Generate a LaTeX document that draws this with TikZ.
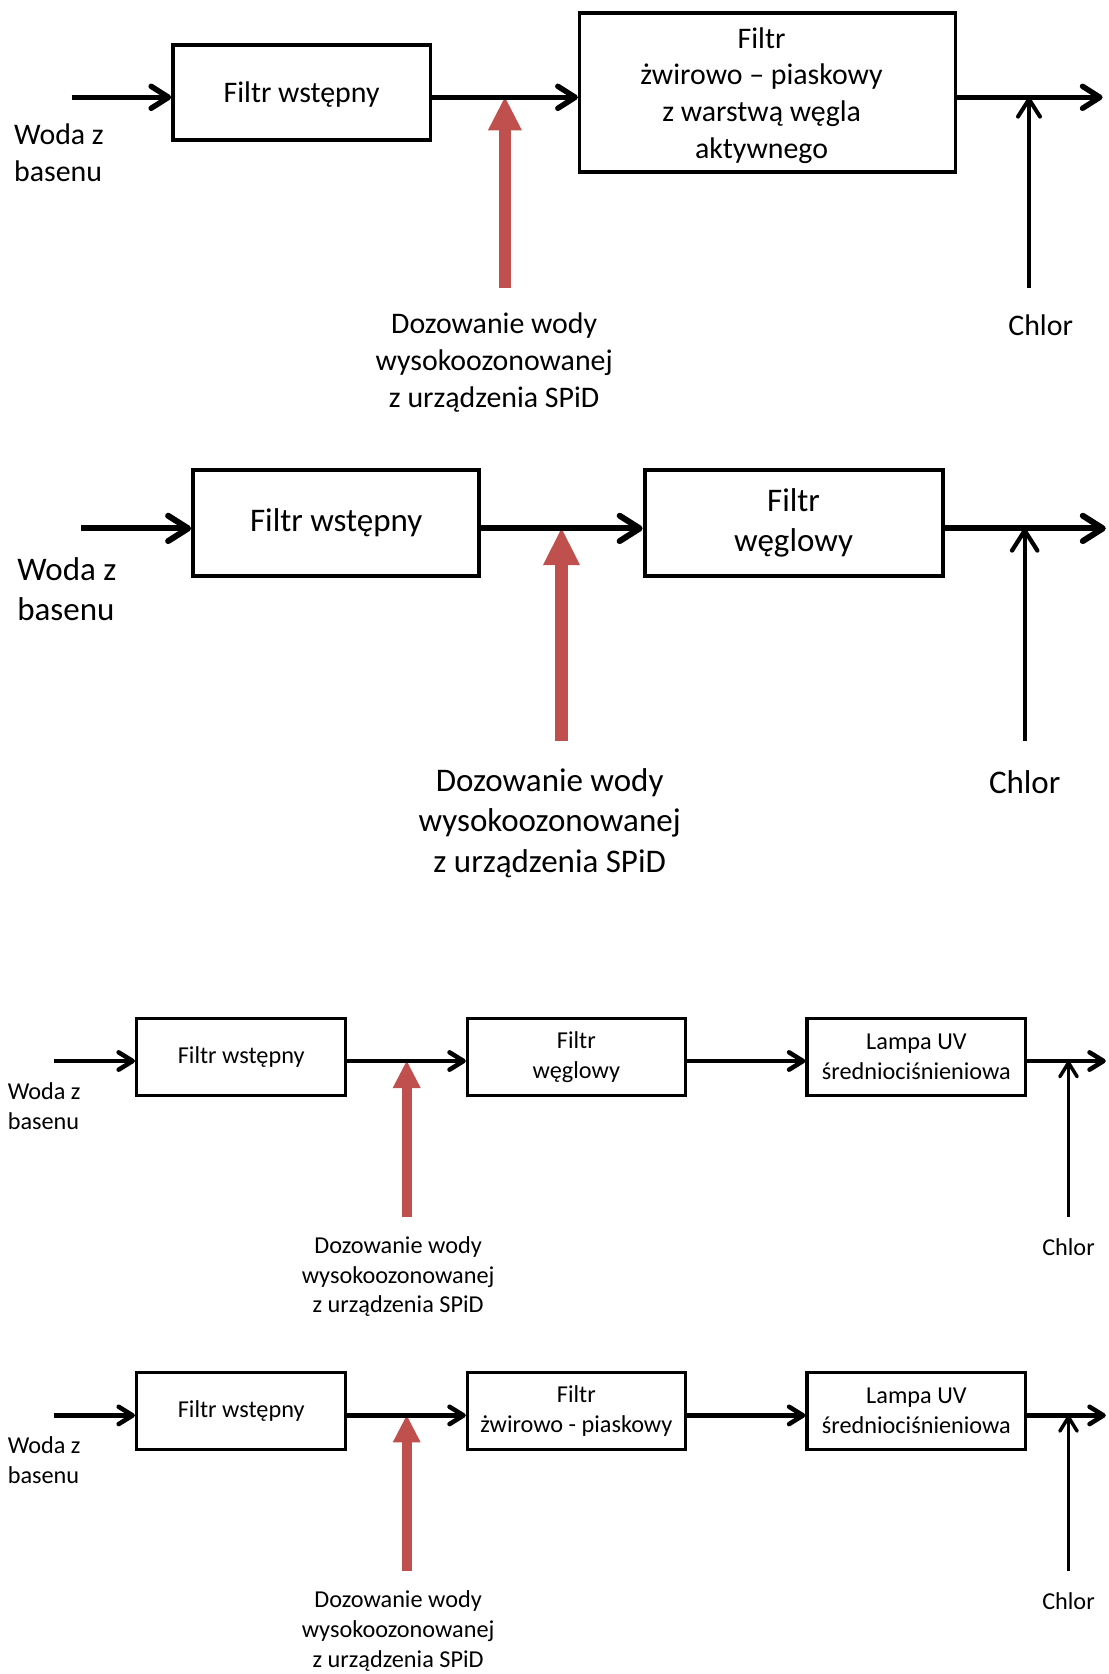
\documentclass[tikz,border=0pt]{standalone}
\usepackage{fontspec}
\setmainfont{Carlito}
\usetikzlibrary{arrows.meta}
\definecolor{ozred}{HTML}{C0504D}
\tikzset{
  fsA/.style={font=\fontsize{22.4}{27.5}\selectfont},
  fsB/.style={font=\fontsize{24.75}{30.4}\selectfont},
  fsC/.style={font=\fontsize{18.2}{22.4}\selectfont},
  boxA/.style={draw, line width=2.6pt, inner sep=0pt, align=center, fsA},
  boxB/.style={draw, line width=3pt, inner sep=0pt, align=center, fsB},
  boxC/.style={draw, line width=2.5pt, inner sep=0pt, align=center, fsC},
  flowA/.style={line width=4.1pt, -{Straight Barb[length=13pt,width=16.5pt,round]}},
  flowB/.style={line width=4.5pt, -{Straight Barb[length=15pt,width=19pt,round]}},
  flowC/.style={line width=3.4pt, -{Straight Barb[length=10.5pt,width=13pt,round]}},
  chlA/.style={line width=3pt, -{Straight Barb[length=13pt,width=16.5pt,round]}},
  chlB/.style={line width=3.2pt, -{Straight Barb[length=15pt,width=19pt,round]}},
  chlC/.style={line width=2.6pt, -{Straight Barb[length=10.5pt,width=13pt,round]}},
  ozA/.style={ozred, line width=9pt, -{Triangle[length=24.75pt,width=25.5pt,line width=0pt]}},
  ozB/.style={ozred, line width=10pt, -{Triangle[length=27.5pt,width=27.75pt,line width=0pt]}},
  ozC/.style={ozred, line width=7.5pt, -{Triangle[length=20.25pt,width=21pt,line width=0pt]}},
  lbl/.style={inner sep=0pt, align=center},
  lblL/.style={inner sep=0pt, align=left, anchor=west},
}
\begin{document}
\begin{tikzpicture}[x=0.75pt, y=-0.75pt]
\useasboundingbox (0,0) rectangle (1109,1674);

% ---------------- Diagram 1 ----------------
\coordinate (in1) at (71.5,97.3);
\coordinate (out1) at (1102.6,97.3);
\coordinate (oz1) at (504.9,288.2);
\coordinate (cl1) at (1029,288.2);
\node[boxA, minimum width=193pt, minimum height=71.25pt] (A1) at (301.6,92.3) {};
\node[lbl, fsA] (A1t) at (301.6,94.4) {Filtr wstępny};
\node[boxA, minimum width=281.8pt, minimum height=119.3pt] (B1) at (767.5,92.3) {};
\node[lbl, fsA] (B1t) at (761.6,95.5) {Filtr\\żwirowo – piaskowy\\z warstwą węgla\\aktywnego};
\draw[ozA] (oz1) -- (oz1 |- in1);
\draw[chlA] (cl1) -- (cl1 |- in1);
\draw[flowA] (in1) -- (in1 -| A1.west);
\draw[flowA] (A1.east |- in1) -- (B1.west |- in1);
\draw[flowA] (B1.east |- in1) -- (out1);
\node[lblL, fsA] (w1) at (13.9,152.6) {Woda z\\basenu};
\node[lbl, fsA] (d1) at (494.2,362.4) {Dozowanie wody\\wysokoozonowanej\\z urządzenia SPiD};
\node[lbl, fsA] (c1) at (1040.7,325.6) {Chlor};

% ---------------- Diagram 2 ----------------
\coordinate (in2) at (81.1,528.4);
\coordinate (out2) at (1105.8,528.4);
\coordinate (oz2) at (561.5,740.8);
\coordinate (cl2) at (1024.7,740.8);
\node[boxB, minimum width=214.6pt, minimum height=80pt] (A2) at (336.2,523) {Filtr wstępny};
\node[boxB, minimum width=223.4pt, minimum height=80pt] (B2) at (793.6,523) {Filtr\\węglowy};
\draw[ozB] (oz2) -- (oz2 |- in2);
\draw[chlB] (cl2) -- (cl2 |- in2);
\draw[flowB] (in2) -- (in2 -| A2.west);
\draw[flowB] (A2.east |- in2) -- (B2.west |- in2);
\draw[flowB] (B2.east |- in2) -- (out2);
\node[lblL, fsB] (w2) at (17.1,589.2) {Woda z\\basenu};
\node[lbl, fsB] (d2) at (549.7,823) {Dozowanie wody\\wysokoozonowanej\\z urządzenia SPiD};
\node[lbl, fsB] (c2) at (1024.7,782.4) {Chlor};

% ---------------- Diagram 3 ----------------
\coordinate (in3) at (54.4,1061);
\coordinate (out3) at (1105.8,1061);
\coordinate (oz3) at (406.7,1216.8);
\coordinate (cl3) at (1068.5,1216.8);
\node[boxC, minimum width=156.9pt, minimum height=57.7pt] (A3) at (241.2,1056.8) {Filtr wstępny};
\node[boxC, minimum width=163.4pt, minimum height=57.7pt] (B3) at (576.4,1056.8) {Filtr\\węglowy};
\node[boxC, minimum width=164.1pt, minimum height=57.7pt] (C3) at (916.4,1056.8) {Lampa UV\\średniociśnieniowa};
\draw[ozC] (oz3) -- (oz3 |- in3);
\draw[chlC] (cl3) -- (cl3 |- in3);
\draw[flowC] (in3) -- (in3 -| A3.west);
\draw[flowC] (A3.east |- in3) -- (B3.west |- in3);
\draw[flowC] (B3.east |- in3) -- (C3.west |- in3);
\draw[flowC] (C3.east |- in3) -- (out3);
\node[lblL, fsC] (w3) at (7.5,1105.9) {Woda z\\basenu};
\node[lbl, fsC] (d3) at (398.1,1276.6) {Dozowanie wody\\wysokoozonowanej\\z urządzenia SPiD};
\node[lbl, fsC] (c3) at (1068.5,1246.7) {Chlor};

% ---------------- Diagram 4 ----------------
\coordinate (in4) at (54.4,1415.4);
\coordinate (out4) at (1105.8,1415.4);
\coordinate (oz4) at (406.7,1571.2);
\coordinate (cl4) at (1068.5,1571.2);
\node[boxC, minimum width=156.9pt, minimum height=57.7pt] (A4) at (241.2,1411.2) {Filtr wstępny};
\node[boxC, minimum width=163.4pt, minimum height=57.7pt] (B4) at (576.4,1411.2) {Filtr\\żwirowo - piaskowy};
\node[boxC, minimum width=164.1pt, minimum height=57.7pt] (C4) at (916.4,1411.2) {Lampa UV\\średniociśnieniowa};
\draw[ozC] (oz4) -- (oz4 |- in4);
\draw[chlC] (cl4) -- (cl4 |- in4);
\draw[flowC] (in4) -- (in4 -| A4.west);
\draw[flowC] (A4.east |- in4) -- (B4.west |- in4);
\draw[flowC] (B4.east |- in4) -- (C4.west |- in4);
\draw[flowC] (C4.east |- in4) -- (out4);
\node[lblL, fsC] (w4) at (7.5,1460.2) {Woda z\\basenu};
\node[lbl, fsC] (d4) at (398.1,1631) {Dozowanie wody\\wysokoozonowanej\\z urządzenia SPiD};
\node[lbl, fsC] (c4) at (1068.5,1601.1) {Chlor};
\end{tikzpicture}
\end{document}
